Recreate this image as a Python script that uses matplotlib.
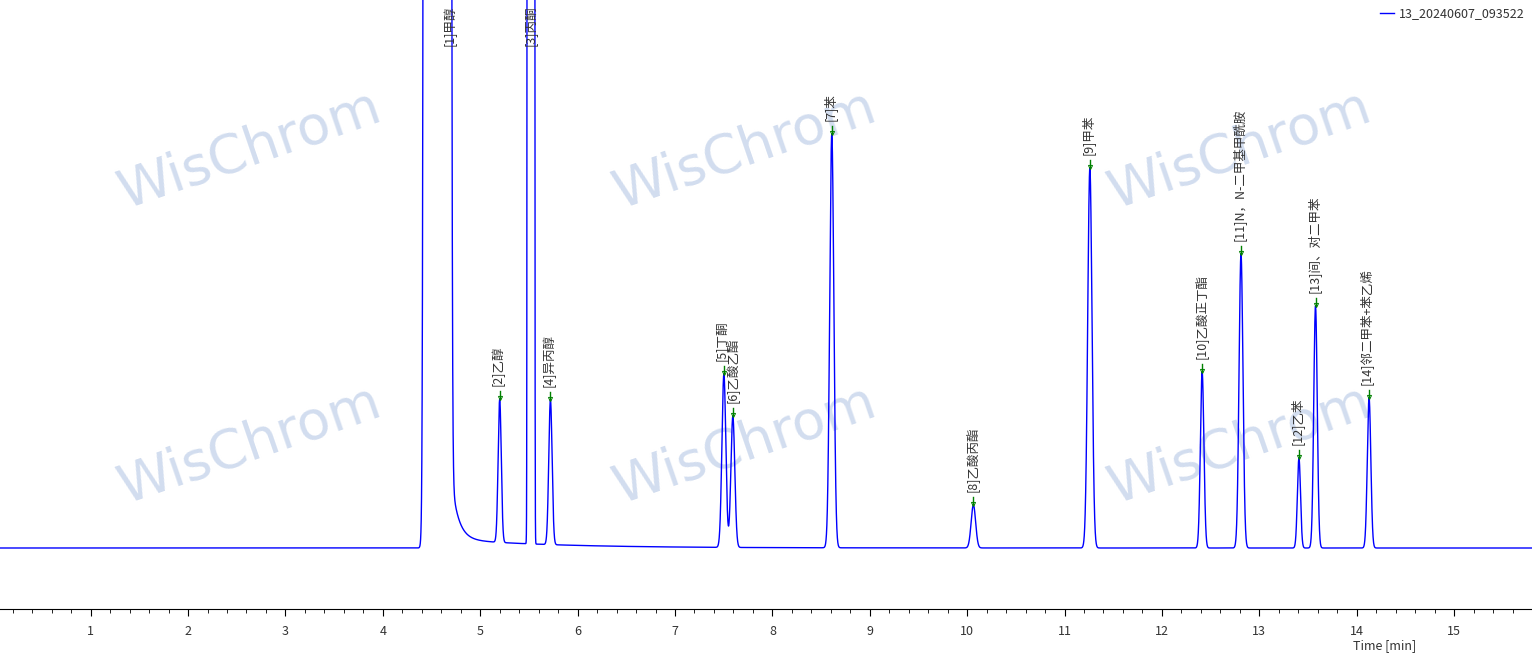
import numpy as np
import matplotlib.pyplot as plt
from matplotlib.ticker import MultipleLocator

plt.rcParams['font.family'] = ['Noto Sans CJK SC', 'DejaVu Sans']

# peak table (height in detector units, 1e8 = off scale)
peak_names = ['[1]甲醇', '[2]乙醇', '[3]丙酮', '[4]异丙醇', '[5]丁酮', '[6]乙酸乙酯',
              '[7]苯', '[8]乙酸丙酯', '[9]甲苯', '[10]乙酸正丁酯', '[11]N，N-二甲基甲酰胺',
              '[12]乙苯', '[13]间、对二甲苯', '[14]邻二甲苯+苯乙烯']
peak_times = [4.56, 5.20, 5.521, 5.721, 7.502, 7.594, 8.61, 10.064, 11.26, 12.413,
              12.812, 13.407, 13.577, 14.127]
peak_heights = [1e8, 143, 1e8, 145, 173, 131, 414, 43, 380, 176, 294, 90, 242, 150]
peak_sigmas = [0.0302, 0.016, 0.0083, 0.017, 0.02, 0.02, 0.021, 0.023, 0.022, 0.018,
               0.02, 0.016, 0.018, 0.018]
label_times = [4.69, 5.20, 5.51, 5.721, 7.49, 7.605, 8.61, 10.064, 11.26, 12.413,
               12.812, 13.407, 13.577, 14.127]

# solvent tail after the methanol peak
tail_start = 4.66
tail_amps = [115, 9.3]
tail_taus = [0.07, 1.05]

trace_name = '13_20240607_093522'

t = np.linspace(0.069, 15.80, 30000)
signal = np.zeros_like(t)
for rt, h, s in zip(peak_times, peak_heights, peak_sigmas):
    signal += h * np.exp(-(t - rt) ** 2 / (2 * s ** 2))
for a, tau in zip(tail_amps, tail_taus):
    signal += np.where(t > tail_start, a * np.exp(-(t - tail_start) / tau), 0)

fig = plt.figure(figsize=(15.32, 6.63), dpi=100)
ax = fig.add_axes([0, 1 - 609 / 663, 1, 609 / 663])

# watermark, behind the axes
for wx in [250, 745, 1240]:
    for wy in [150, 445]:
        fig.text(wx / 1532, 1 - wy / 663, 'WisChrom', fontsize=39, rotation=19,
                 color='#d2ddef', ha='center', va='center', family='DejaVu Sans', zorder=-1)

ax.patch.set_alpha(0)
ax.plot(t, signal, color='#0000ff', lw=1, label=trace_name)

for name, rt, lt, h in zip(peak_names, peak_times, label_times, peak_heights):
    if h > 1000:
        ax.text(lt, 543, name, rotation=90, ha='center', va='top', fontsize=9, color='#333333')
        continue
    apex = np.interp(rt, t, signal)
    ax.plot([rt, rt], [apex, apex + 8], color='green', lw=1)
    ax.plot(rt, apex + 1, marker='v', ms=3, color='green', mfc='none', mew=0.7)
    ax.text(lt - 0.02, apex + 13, name, rotation=90, ha='center', va='bottom',
            fontsize=9, color='#333333')

ax.set_xlim(0.069, 15.80)
ax.set_ylim(-61, 548)
for side in ['top', 'left', 'right']:
    ax.spines[side].set_visible(False)
ax.set_yticks([])
ax.xaxis.set_major_locator(MultipleLocator(1))
ax.xaxis.set_minor_locator(MultipleLocator(0.2))
ax.tick_params(axis='x', which='major', length=5, pad=6.5, labelsize=9, labelcolor='#333333')
ax.tick_params(axis='x', which='minor', length=3)
ax.set_xlabel('Time [min]', fontsize=9, color='#333333')
ax.xaxis.set_label_coords(1385 / 1532, -0.05)

ax.legend(loc='upper right', frameon=False, fontsize=9, handlelength=1.1,
          handletextpad=0.4, borderaxespad=0.2, labelcolor='#333333')

fig.savefig('out.png', dpi=100)
